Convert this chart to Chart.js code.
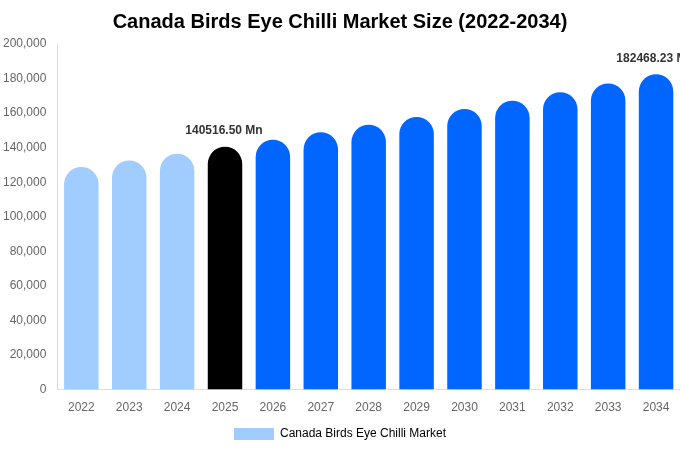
<!DOCTYPE html>
<html>
<head>
<meta charset="utf-8">
<script src="https://cdn.jsdelivr.net/npm/chart.js@4.4.1/dist/chart.umd.min.js"></script>
<style>
  html,body{margin:0;padding:0;background:#fff;}
  #wrap{width:680px;height:450px;}
</style>
</head>
<body>
<div id="wrap"><canvas id="market-chart"></canvas></div>
<script>
/* DATA */
var years = ['2022','2023','2024','2025','2026','2027','2028','2029','2030','2031','2032','2033','2034'];
var marketSize = [128817,132604,136503,140516.50,144648,148900,153278,157784,162423,167198,172113,177173,182468.23];
var barColors = ['#a0cdfd','#a0cdfd','#a0cdfd','#000000','#0066ff','#0066ff','#0066ff','#0066ff','#0066ff','#0066ff','#0066ff','#0066ff','#0066ff'];
var labelledBars = [3,12];

/* value labels above chosen bars */
var topLabels = {
  id:'topLabels',
  afterDatasetsDraw:function(chart){
    var ctx = chart.ctx;
    var meta = chart.getDatasetMeta(0);
    ctx.save();
    ctx.font = 'bold 12px "Liberation Sans", Arial, sans-serif';
    ctx.fillStyle = '#333';
    ctx.textAlign = 'center';
    ctx.textBaseline = 'bottom';
    labelledBars.forEach(function(i){
      var bar = meta.data[i];
      ctx.fillText(marketSize[i].toFixed(2)+' Mn', bar.x - 1, bar.y - 10);
    });
    ctx.restore();
  }
};

new Chart(document.getElementById('market-chart'), {
  type:'bar',
  data:{
    labels:years,
    datasets:[{
      label:'Canada Birds Eye Chilli Market',
      data:marketSize,
      backgroundColor:barColors,
      borderRadius:{topLeft:40,topRight:40},
      borderSkipped:'start'
    }]
  },
  options:{
    responsive:true,
    maintainAspectRatio:false,
    animation:false,
    layout:{padding:{left:0,right:0,top:0,bottom:0}},
    plugins:{
      title:{
        display:true,
        text:'Canada Birds Eye Chilli Market Size (2022-2034)',
        color:'#000',
        font:{family:'"Liberation Sans", Arial, sans-serif',size:20,weight:'bold'},
        padding:{top:10,bottom:10}
      },
      legend:{
        position:'bottom',
        labels:{
          color:'#777',
          font:{family:'"Liberation Sans", Arial, sans-serif',size:12},
          boxWidth:40,boxHeight:12,
          generateLabels:function(chart){
            return [{text:'Canada Birds Eye Chilli Market',fillStyle:'#a0cdfd',strokeStyle:'#a0cdfd',lineWidth:0,datasetIndex:0}];
          }
        }
      },
      tooltip:{enabled:false}
    },
    scales:{
      y:{
        min:0,max:200000,
        ticks:{stepSize:20000,color:'#666',font:{family:'"Liberation Sans", Arial, sans-serif',size:12}},
        grid:{display:false},
        border:{display:true,color:'#ddd'}
      },
      x:{
        ticks:{color:'#666',font:{family:'"Liberation Sans", Arial, sans-serif',size:12}},
        grid:{display:false},
        border:{display:true,color:'#ddd'}
      }
    }
  },
  plugins:[topLabels]
});
</script>
</body>
</html>
